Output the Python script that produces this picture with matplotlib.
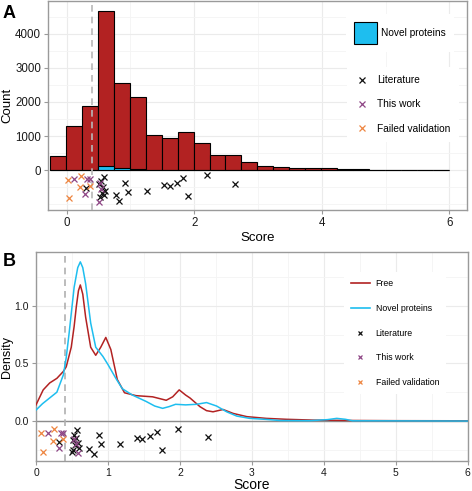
import numpy as np
import matplotlib
matplotlib.use('Agg')
import matplotlib.pyplot as plt
from matplotlib.lines import Line2D
from matplotlib.patches import Patch

plt.rcParams['font.family'] = ['Liberation Sans', 'DejaVu Sans']

# ---- panel A: histogram of scores ----
bin_start = -0.26
bin_width = 0.25
free_counts = [420, 1280, 1870, 4690, 2570, 2160, 1030, 930, 1110, 785, 440, 440,
               225, 125, 95, 65, 50, 45, 20, 15, 6, 5, 4, 3, 2]
novel_counts = [0, 0, 5, 125, 65, 30, 12, 5, 3, 2, 0, 0,
                0, 0, 0, 0, 0, 0, 0, 0, 0, 0, 0, 0, 0]

# known proteins shown under the histogram (score, jitter)
lit_a_x = [0.31, 0.59, 0.533, 0.50, 0.57, 0.596, 0.554, 0.517, 0.585, 0.77, 0.815,
           0.92, 0.96, 1.26, 1.527, 1.628, 1.73, 1.825, 1.91, 2.2, 2.635]
lit_a_y = [-539, -196, -324, -422, -490, -618, -686, -784, -735, -735, -902,
           -373, -637, -618, -441, -470, -373, -245, -765, -157, -412]
this_a_x = [0.115, 0.324, 0.37, 0.29, 0.52, 0.545, 0.51]
this_a_y = [-265, -265, -265, -716, -390, -570, -930]
fail_a_x = [0.021, 0.22, 0.204, 0.037, 0.36]
fail_a_y = [-294, -176, -490, -833, -461]

# ---- panel B: density curves ----
free_x = [0, 0.1, 0.19, 0.29, 0.38, 0.42, 0.49, 0.53, 0.56, 0.59, 0.616, 0.65, 0.69,
          0.76, 0.83, 0.90, 0.97, 1.04, 1.13, 1.23, 1.39, 1.62, 1.81, 1.90, 1.99,
          2.08, 2.14, 2.28, 2.37, 2.46, 2.6, 2.74, 2.93, 3.2, 3.48, 3.85, 4.3, 5.0, 6.0]
free_y = [0.14, 0.27, 0.33, 0.37, 0.43, 0.47, 0.64, 0.82, 0.99, 1.13, 1.18, 1.10, 0.90,
          0.64, 0.57, 0.64, 0.725, 0.62, 0.36, 0.245, 0.22, 0.21, 0.18, 0.21, 0.27,
          0.225, 0.20, 0.124, 0.09, 0.08, 0.10, 0.066, 0.038, 0.023, 0.015, 0.008, 0.005, 0.003, 0.002]
novel_x = [0, 0.09, 0.19, 0.29, 0.38, 0.42, 0.46, 0.53, 0.58, 0.616, 0.65, 0.69, 0.76,
           0.83, 0.93, 1.0, 1.11, 1.2, 1.34, 1.53, 1.65, 1.76, 1.85, 1.94, 2.08, 2.23,
           2.37, 2.51, 2.65, 2.79, 2.97, 3.2, 3.4, 3.8, 4.05, 4.18, 4.3, 4.4, 6.0]
novel_y = [0.095, 0.15, 0.2, 0.25, 0.4, 0.55, 0.76, 1.16, 1.33, 1.38, 1.33, 1.19, 0.85,
           0.64, 0.56, 0.49, 0.37, 0.28, 0.225, 0.17, 0.13, 0.11, 0.125, 0.145, 0.14, 0.145,
           0.16, 0.13, 0.08, 0.043, 0.023, 0.014, 0.004, 0.003, 0.012, 0.023, 0.015, 0.002, 0.0]

lit_b_x = [0.324, 0.57, 0.53, 0.51, 0.58, 0.546, 0.51, 0.60, 0.495, 0.56, 0.73, 0.81,
           0.87, 0.90, 1.17, 1.40, 1.48, 1.583, 1.685, 1.745, 1.98, 2.39]
lit_b_y = [-0.18, -0.078, -0.12, -0.165, -0.19, -0.21, -0.25, -0.237, -0.266, -0.15, -0.243, -0.286,
           -0.12, -0.2, -0.2, -0.15, -0.156, -0.13, -0.092, -0.25, -0.069, -0.142]
this_b_x = [0.162, 0.347, 0.38, 0.315, 0.53, 0.56, 0.58]
this_b_y = [-0.107, -0.107, -0.107, -0.237, -0.153, -0.2, -0.28]
fail_b_x = [0.069, 0.255, 0.231, 0.093, 0.37]
fail_b_y = [-0.107, -0.072, -0.171, -0.266, -0.16]

threshold = 0.4

free_col = '#B22222'
novel_col = '#1EBEEF'
lit_col = '#111111'
this_col = '#8E4585'
fail_col = '#EE8540'
grid_major = '#EBEBEB'
grid_minor = '#F4F4F4'
frame_col = '#9A9A9A'


def style_axes(ax, labelsize):
    for s in ax.spines.values():
        s.set_color(frame_col)
        s.set_linewidth(1.0)
    ax.grid(True, which='major', color=grid_major, lw=0.8, zorder=0)
    ax.grid(True, which='minor', color=grid_minor, lw=0.6, zorder=0)
    ax.set_axisbelow(True)
    ax.tick_params(which='major', direction='out', length=3, color=frame_col,
                   labelsize=labelsize, labelcolor='#1A1A1A', pad=2)
    ax.tick_params(which='minor', length=0)


def point_handles(ms):
    return [Line2D([], [], ls='', marker='x', color=c, ms=ms, mew=0.9, label=l)
            for c, l in [(lit_col, 'Literature'), (this_col, 'This work'),
                         (fail_col, 'Failed validation')]]


fig = plt.figure(figsize=(4.72, 4.91), dpi=100)

# ---------------- A ----------------
axA = fig.add_axes([48 / 472, 1 - 210 / 491, 419 / 472, 209 / 491])
lefts = bin_start + bin_width * np.arange(len(free_counts))
axA.bar(lefts, free_counts, width=bin_width, align='edge', color=free_col,
        edgecolor='black', lw=0.8, zorder=2)
axA.bar(lefts, novel_counts, width=bin_width, align='edge', color=novel_col,
        edgecolor='black', lw=0.8, zorder=2)
axA.axvline(threshold, color='#B8B8B8', ls=(0, (4, 3)), lw=1.2, zorder=3)
ms = 4.5
axA.plot(lit_a_x, lit_a_y, ls='', marker='x', color=lit_col, ms=ms, mew=0.9, zorder=4)
axA.plot(this_a_x, this_a_y, ls='', marker='x', color=this_col, ms=ms, mew=0.9, zorder=4)
axA.plot(fail_a_x, fail_a_y, ls='', marker='x', color=fail_col, ms=ms, mew=0.9, zorder=4)

axA.set_xlim(-0.293, 6.278)
axA.set_ylim(-1176, 4970)
axA.set_xticks([0, 2, 4, 6])
axA.set_xticks([1, 3, 5], minor=True)
axA.set_yticks([0, 1000, 2000, 3000, 4000])
axA.set_yticks([-1000, -500, 500, 1500, 2500, 3500, 4500], minor=True)
style_axes(axA, 8.3)
axA.set_xlabel('Score', fontsize=9.5, labelpad=2)
axA.set_ylabel('Count', fontsize=9.5, labelpad=1)

legA1 = axA.legend(handles=[Patch(facecolor=novel_col, edgecolor='black', lw=0.8,
                                  label='Novel proteins')],
                   loc='upper left', bbox_to_anchor=(0.711, 0.938), fontsize=7.3,
                   handlelength=2.28, handleheight=2.9, handletextpad=0.4,
                   borderpad=0.8, borderaxespad=0, fancybox=False,
                   edgecolor='none', framealpha=1)
axA.add_artist(legA1)
axA.legend(handles=point_handles(4), loc='upper left', bbox_to_anchor=(0.713, 0.684),
           fontsize=7.3, handlelength=1.4, handletextpad=0.8, labelspacing=1.4,
           borderpad=0.8, borderaxespad=0, fancybox=False, edgecolor='none',
           framealpha=1)

# ---------------- B ----------------
axB = fig.add_axes([36 / 472, 1 - 460.7 / 491, 431.7 / 472, 208.4 / 491])
axB.axhline(0, color='#8C8C8C', lw=1.0, zorder=1)
axB.plot(free_x, free_y, color=free_col, lw=1.1, zorder=3)
axB.plot(novel_x, novel_y, color=novel_col, lw=1.1, zorder=3)
axB.axvline(threshold, color='#B0B0B0', ls=(0, (4, 3)), lw=1.2, zorder=2)
axB.plot(lit_b_x, lit_b_y, ls='', marker='x', color=lit_col, ms=ms, mew=0.9, zorder=4)
axB.plot(this_b_x, this_b_y, ls='', marker='x', color=this_col, ms=ms, mew=0.9, zorder=4)
axB.plot(fail_b_x, fail_b_y, ls='', marker='x', color=fail_col, ms=ms, mew=0.9, zorder=4)

axB.set_xlim(0, 6)
axB.set_ylim(-0.344, 1.463)
axB.set_xticks(range(7))
axB.set_xticks(np.arange(0.5, 6, 1.0), minor=True)
axB.set_yticks([0, 0.5, 1.0])
axB.set_yticklabels(['0.0', '0.5', '1.0'])
axB.set_yticks([-0.25, 0.25, 0.75, 1.25], minor=True)
style_axes(axB, 7.5)
axB.set_xlabel('Score', fontsize=10, labelpad=0)
axB.set_ylabel('Density', fontsize=9, labelpad=1)

axB.legend(handles=[Line2D([], [], color=free_col, lw=1.2, label='Free'),
                    Line2D([], [], color=novel_col, lw=1.2, label='Novel proteins')]
           + point_handles(3.5),
           loc='upper left', bbox_to_anchor=(0.713, 0.905), fontsize=6.3,
           handlelength=2.2, handletextpad=0.65, labelspacing=1.8,
           borderpad=0.8, borderaxespad=0, fancybox=False, edgecolor='none',
           framealpha=1)

fig.text(3 / 472, 1 - 5 / 491, 'A', fontsize=13, fontweight='bold', va='top')
fig.text(3 / 472, 1 - 253 / 491, 'B', fontsize=13, fontweight='bold', va='top')

fig.savefig('out.png', dpi=100)
